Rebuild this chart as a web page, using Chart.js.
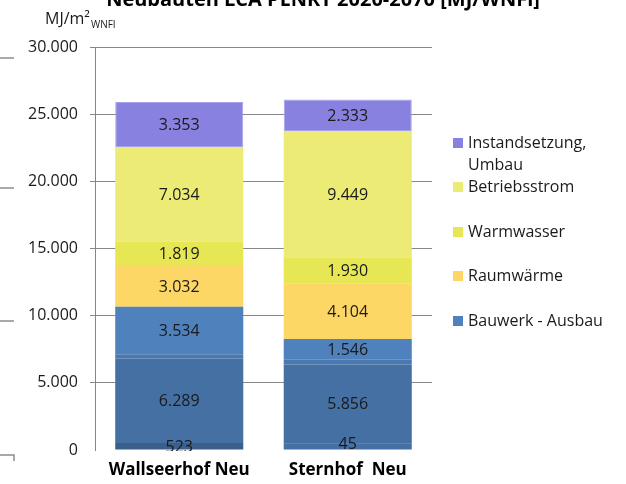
<!DOCTYPE html>
<html>
<head>
<meta charset="utf-8">
<script src="https://cdn.jsdelivr.net/npm/chart.js@4.4.1/dist/chart.umd.min.js"></script>
<style>
  html, body { margin: 0; padding: 0; background: #ffffff; }
  #wrap { width: 626px; height: 484px; position: relative; }
</style>
</head>
<body>
<div id="wrap"><canvas id="c" width="626" height="484"></canvas></div>
<script>
// ---- data ----
const categories = ["Wallseerhof Neu", "Sternhof  Neu"];
const yTicks = [0, 5000, 10000, 15000, 20000, 25000, 30000];
// stacked from bottom to top
const unlabeledBase = [0, 470];        // unlabeled bottom part
const bauwerkA = [523, 45];            // darkest bottom segment
const bauwerkB = [6289, 5856];
const unlabeledMid = [323, 353];       // thin unlabeled band
const bauwerkAusbau = [3534, 1546];
const raumwaerme = [3032, 4104];
const warmwasser = [1819, 1930];
const betriebsstrom = [7034, 9449];
const instandsetzung = [3353, 2333];

const titleText = "Neubauten LCA PENRT 2020-2070 [MJ/WNFl]";
const unitMain = "MJ/m²";
const unitSub = "WNFI";

function fmt(v) {
  const s = String(Math.round(v));
  return s.replace(/\B(?=(\d{3})+(?!\d))/g, ".");
}

const datasets = [
  { label: "_base", data: unlabeledBase, backgroundColor: "#4570a4", showLabel: false, inLegend: false },
  { label: "_a", data: bauwerkA, backgroundColor: "#3b5f8d", showLabel: true, inLegend: false },
  { label: "_b", data: bauwerkB, backgroundColor: "#4570a4", showLabel: true, inLegend: false },
  { label: "_mid", data: unlabeledMid, backgroundColor: "#4a79b2", showLabel: false, inLegend: false },
  { label: "Bauwerk - Ausbau", data: bauwerkAusbau, backgroundColor: "#4f81bd", showLabel: true, inLegend: true },
  { label: "Raumwärme", data: raumwaerme, backgroundColor: "#fdd766", showLabel: true, inLegend: true },
  { label: "Warmwasser", data: warmwasser, backgroundColor: "#e7e755", showLabel: true, inLegend: true },
  { label: "Betriebsstrom", data: betriebsstrom, backgroundColor: "#ebeb75", showLabel: true, inLegend: true },
  { label: "Instandsetzung, Umbau", legendLines: ["Instandsetzung,", "Umbau"], data: instandsetzung, backgroundColor: "#8881df", borderColor: "#a8a2ec", borderWidth: 1, borderSkipped: false, showLabel: true, inLegend: true }
].map(d => Object.assign({ barPercentage: 0.76, categoryPercentage: 1.0, borderWidth: 0 }, d));

const FONT = "'Open Sans', 'DejaVu Sans', sans-serif";

const labelPlugin = {
  id: "segLabels",
  afterDatasetsDraw(chart) {
    const ctx = chart.ctx;
    const area = chart.chartArea;
    ctx.save();
    ctx.beginPath();
    ctx.rect(area.left, area.top, area.right - area.left, area.bottom - area.top + 1);
    ctx.clip();
    ctx.font = "16px " + FONT;
    ctx.fillStyle = "#1a1a1a";
    ctx.textAlign = "center";
    ctx.textBaseline = "middle";
    chart.data.datasets.forEach((ds, i) => {
      if (!ds.showLabel) return;
      const meta = chart.getDatasetMeta(i);
      meta.data.forEach((bar, j) => {
        const v = ds.data[j];
        if (!v) return;
        const p = bar.getProps(["x", "y", "base"], true);
        ctx.fillText(fmt(v), p.x, (p.y + p.base) / 2 + 1);
      });
    });
    ctx.restore();
  }
};

const decorPlugin = {
  id: "decor",
  afterDraw(chart) {
    const ctx = chart.ctx;
    ctx.save();
    // title (cut at top edge)
    ctx.font = "bold 20px " + FONT;
    ctx.fillStyle = "#000000";
    ctx.textAlign = "center";
    ctx.textBaseline = "alphabetic";
    ctx.fillText(titleText, 323, 6);
    // unit label
    ctx.font = "16px " + FONT;
    ctx.textAlign = "left";
    ctx.fillStyle = "#1a1a1a";
    ctx.fillText(unitMain, 45, 24);
    const w = ctx.measureText(unitMain).width;
    ctx.font = "10px " + FONT;
    ctx.fillText(unitSub, 45 + w + 1, 28);
    // stray lines at left edge (fragment of neighbouring chart)
    ctx.strokeStyle = "#8c8c8c";
    ctx.lineWidth = 1.5;
    [58, 188, 321].forEach(y => {
      ctx.beginPath(); ctx.moveTo(0, y); ctx.lineTo(14, y); ctx.stroke();
    });
    ctx.beginPath(); ctx.moveTo(0, 455); ctx.lineTo(14, 455); ctx.lineTo(14, 461); ctx.stroke();
    // legend
    const items = chart.data.datasets.filter(d => d.inLegend).slice().reverse();
    const ys = [143, 187, 232, 276, 321];
    ctx.font = "16px " + FONT;
    ctx.textBaseline = "middle";
    items.forEach((d, k) => {
      const y = ys[k];
      ctx.fillStyle = d.backgroundColor;
      ctx.fillRect(453, y - 5, 10, 10);
      ctx.fillStyle = "#1a1a1a";
      const lines = d.legendLines || [d.label];
      lines.forEach((t, li) => ctx.fillText(t, 468, y + li * 22));
    });
    ctx.restore();
  }
};

new Chart(document.getElementById("c"), {
  type: "bar",
  data: { labels: categories, datasets: datasets },
  options: {
    responsive: false,
    animation: false,
    devicePixelRatio: 1,
    layout: { padding: { left: 0, right: 194, top: 47, bottom: 0 } },
    plugins: { legend: { display: false }, title: { display: false }, tooltip: { enabled: false } },
    scales: {
      x: {
        stacked: true,
        grid: { display: false, drawTicks: false },
        border: { display: false },
        ticks: { color: "#000000", font: { family: FONT, size: 17, weight: "bold" }, padding: 10 },
        afterFit(s) { s.height = 34; }
      },
      y: {
        stacked: true,
        min: 0,
        max: 30000,
        afterBuildTicks(s) { s.ticks = yTicks.map(v => ({ value: v })); },
        grid: {
          color: ctx => (ctx.tick && ctx.tick.value === 0) ? "rgba(0,0,0,0)" : "#878787",
          lineWidth: 1,
          tickLength: 5,
          drawTicks: true
        },
        border: { display: true, color: "#878787", width: 1 },
        ticks: { color: "#1a1a1a", font: { family: FONT, size: 16 }, padding: 12, callback: v => fmt(v) },
        afterFit(s) { s.width = 95; }
      }
    }
  },
  plugins: [labelPlugin, decorPlugin]
});
</script>
</body>
</html>
